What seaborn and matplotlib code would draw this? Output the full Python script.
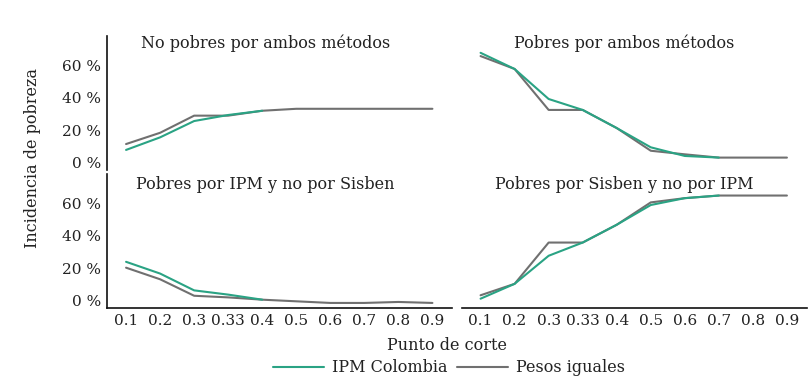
import matplotlib
matplotlib.use("Agg")
import matplotlib.pyplot as plt
import seaborn as sns
import pandas as pd
import numpy as np
from matplotlib.lines import Line2D

cortes = ["0.1", "0.2", "0.3", "0.33", "0.4", "0.5", "0.6", "0.7", "0.8", "0.9"]
paneles = ["No pobres por ambos métodos", "Pobres por ambos métodos",
           "Pobres por IPM y no por Sisben", "Pobres por Sisben y no por IPM"]
series = ["IPM Colombia", "Pesos iguales"]
nan = np.nan

ipm_no_pobres = [8.0, 15.7, 25.7, 29.4, 32.0, nan, nan, nan, nan, nan]
pes_no_pobres = [11.6, 18.5, 29.0, 29.0, 32.0, 33.2, 33.2, 33.2, 33.2, 33.2]
ipm_pobres = [67.5, 57.6, 39.2, 32.5, 21.4, 9.6, 4.3, 3.3, nan, nan]
pes_pobres = [65.5, 57.6, 32.5, 32.5, 21.4, 7.5, 5.3, 3.3, 3.3, 3.3]
ipm_solo_ipm = [24.0, 16.8, 6.5, 3.9, 0.8, nan, nan, nan, nan, nan]
pes_solo_ipm = [20.4, 13.3, 3.2, 2.2, 0.8, -0.2, -1.2, -1.2, -0.6, -1.2]
ipm_solo_sisben = [1.4, 10.5, 27.7, 35.8, 46.7, 58.8, 63.0, 64.6, nan, nan]
pes_solo_sisben = [3.5, 10.5, 35.8, 35.8, 46.7, 60.4, 63.0, 64.6, 64.6, 64.6]

datos = {
    paneles[0]: (ipm_no_pobres, pes_no_pobres),
    paneles[1]: (ipm_pobres, pes_pobres),
    paneles[2]: (ipm_solo_ipm, pes_solo_ipm),
    paneles[3]: (ipm_solo_sisben, pes_solo_sisben),
}

colores = {"IPM Colombia": "#2aa384", "Pesos iguales": "#707070"}

sns.set_theme(style="white")
plt.rcParams["font.family"] = ["DejaVu Serif"]
plt.rcParams["text.color"] = "#222222"

W, H = 811, 386
fig, axes = plt.subplots(2, 2, figsize=(W / 100, H / 100), dpi=100, sharex=False)
L, R, T, B = 107, 807, 36, 308
fig.subplots_adjust(left=L / W, right=R / W, top=1 - T / H, bottom=1 - B / H,
                    wspace=9 / 345, hspace=4 / 134)

title_x = [0.458, 0.471, 0.458, 0.471]
title_y = [0.945, 0.945, 0.925, 0.925]
for i, (ax, panel) in enumerate(zip(axes.flat, paneles)):
    ipm, pes = datos[panel]
    df = pd.DataFrame({
        "corte": cortes * 2,
        "valor": ipm + pes,
        "serie": [series[0]] * len(cortes) + [series[1]] * len(cortes),
    })
    sns.lineplot(data=df, x="corte", y="valor", hue="serie", palette=colores,
                 hue_order=[series[1], series[0]], ax=ax, linewidth=1.5, legend=False,
                 sort=False)
    ax.set_xlim(-0.56, 9.59)
    ax.set_ylim(-4.3, 77.8)
    ax.set_yticks([0, 20, 40, 60])
    ax.set_xlabel("")
    ax.set_ylabel("")
    ax.tick_params(length=0, labelsize=11, colors="#222222", pad=4)
    for s in ["top", "right", "left", "bottom"]:
        ax.spines[s].set_visible(False)
    row, col = divmod(i, 2)
    if col == 0:
        ax.spines["left"].set_visible(True)
        ax.spines["left"].set_color("#111111")
        ax.spines["left"].set_linewidth(1.2)
        ax.set_yticklabels(["0 %", "20 %", "40 %", "60 %"])
    else:
        ax.set_yticklabels([])
    if row == 1:
        ax.spines["bottom"].set_visible(True)
        ax.spines["bottom"].set_color("#111111")
        ax.spines["bottom"].set_linewidth(1.2)
    else:
        ax.set_xticklabels([])
    ax.text(title_x[i], title_y[i], panel, transform=ax.transAxes, ha="center",
            va="center", fontsize=11.5, color="#222222")

fig.text(33 / W, 1 - 158 / H, "Incidencia de pobreza", rotation=90, ha="center",
         va="center", fontsize=11.5)
fig.text(447 / W, 1 - 345 / H, "Punto de corte", ha="center", va="center", fontsize=11.5)

handles = [Line2D([0], [0], color=colores[s], lw=1.5) for s in series]
fig.legend(handles, series, loc="center", bbox_to_anchor=(449 / W, 1 - 368 / H),
           ncol=2, frameon=False, fontsize=11.5, handlelength=3.2, columnspacing=0.6,
           handletextpad=0.5)

fig.savefig("out.png", dpi=100)
